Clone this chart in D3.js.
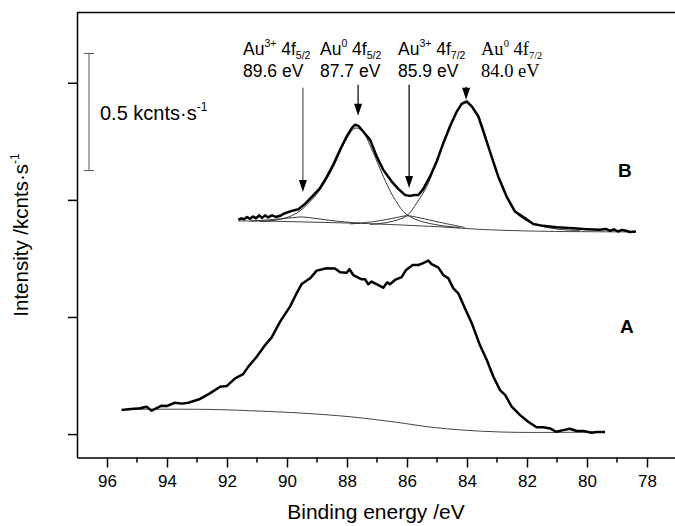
<!DOCTYPE html>
<html lang="en">
<head>
  <meta charset="UTF-8" />
  <title>Au 4f XPS spectra</title>
  <style>
    body { margin: 0; background: #fff; }
    text { font-family: Arial, "Liberation Sans", sans-serif; fill: #000; }
    .axis path, .axis line { stroke: #000; stroke-width: 1.5px; }
    .data { fill: none; stroke: #000; stroke-width: 2.5px; stroke-linejoin: round; }
    .fit { fill: none; stroke: #222; stroke-width: 0.9px; }
    .bg { fill: none; stroke: #444; stroke-width: 1px; }
  </style>
  <script src="https://d3js.org/d3.v7.min.js"></script>
</head>
<body>
  <svg id="chart" width="675" height="526"></svg>

  <script>
    // spectrum A : [binding energy eV, intensity kcnts/s]
    const spectrumA = [
      [95.51, 0.103], [95.2, 0.107], [94.9, 0.110], [94.68, 0.117], [94.51, 0.100],
      [94.18, 0.121], [94.0, 0.120], [93.73, 0.134], [93.5, 0.130], [93.29, 0.134],
      [92.90, 0.150], [92.57, 0.174], [92.23, 0.202], [92.01, 0.205], [91.73, 0.238],
      [91.46, 0.256], [91.29, 0.288], [91.01, 0.330], [90.73, 0.380], [90.51, 0.413],
      [90.23, 0.480], [89.90, 0.544], [89.68, 0.601], [89.51, 0.641], [89.23, 0.665],
      [89.01, 0.698], [88.68, 0.708], [88.40, 0.707], [88.23, 0.691], [88.01, 0.689],
      [87.92, 0.704], [87.79, 0.679], [87.51, 0.661], [87.40, 0.661], [87.29, 0.640],
      [87.18, 0.651], [86.79, 0.625], [86.66, 0.648], [86.57, 0.640], [86.40, 0.658],
      [86.18, 0.670], [86.03, 0.701], [85.81, 0.722], [85.62, 0.722], [85.48, 0.729],
      [85.29, 0.741], [85.18, 0.726], [84.96, 0.712], [84.79, 0.679], [84.62, 0.665],
      [84.46, 0.623], [84.29, 0.601], [84.07, 0.537], [83.84, 0.473], [83.57, 0.380],
      [83.34, 0.316], [83.12, 0.245], [82.90, 0.188], [82.73, 0.167], [82.51, 0.117],
      [82.23, 0.081], [81.96, 0.053], [81.68, 0.029], [81.46, 0.029], [81.23, 0.024],
      [81.03, 0.010], [80.79, 0.017], [80.57, 0.023], [80.34, 0.013], [80.12, 0.013],
      [79.84, 0.006], [79.68, 0.009], [79.40, 0.009]
    ];
    const backgroundA = [
      [95.53, 0.105], [94.57, 0.106], [92.47, 0.105], [90.90, 0.098], [89.57, 0.090],
      [87.90, 0.074], [86.33, 0.050], [85.23, 0.030], [84.13, 0.017], [82.90, 0.009],
      [81.57, 0.007], [79.40, 0.009]
    ];

    // spectrum B and its fit
    const spectrumB = [
      [91.62, 0.915], [91.53, 0.921], [91.43, 0.917], [91.33, 0.927], [91.23, 0.919],
      [91.13, 0.929], [91.03, 0.921], [90.93, 0.934], [90.83, 0.923], [90.73, 0.934],
      [90.63, 0.925], [90.50, 0.934], [90.37, 0.927], [90.23, 0.932], [90.07, 0.943],
      [89.84, 0.953], [89.62, 0.960], [89.40, 0.983], [89.18, 1.012], [88.90, 1.050],
      [88.68, 1.097], [88.46, 1.150], [88.23, 1.214], [88.01, 1.271], [87.84, 1.306],
      [87.73, 1.321], [87.62, 1.316], [87.46, 1.292], [87.23, 1.256], [87.01, 1.185],
      [86.79, 1.128], [86.51, 1.078], [86.29, 1.047], [86.07, 1.021], [85.90, 1.017],
      [85.75, 1.021], [85.62, 1.021], [85.46, 1.046], [85.23, 1.100], [85.01, 1.164],
      [84.79, 1.242], [84.57, 1.313], [84.34, 1.377], [84.18, 1.410], [84.01, 1.420],
      [83.84, 1.399], [83.62, 1.356], [83.40, 1.271], [83.18, 1.185], [82.96, 1.100],
      [82.68, 1.014], [82.40, 0.950], [82.07, 0.922], [81.79, 0.897], [81.46, 0.889],
      [81.01, 0.883], [80.46, 0.879], [80.01, 0.875], [79.57, 0.872], [79.37, 0.876],
      [79.23, 0.868], [79.10, 0.874], [78.97, 0.865], [78.83, 0.872], [78.70, 0.868],
      [78.57, 0.863], [78.37, 0.865]
    ];
    const backgroundB = [
      [91.63, 0.910], [90.23, 0.908], [88.90, 0.904], [87.57, 0.900], [86.23, 0.893],
      [84.90, 0.885], [83.57, 0.874], [82.23, 0.868], [80.90, 0.865], [78.37, 0.863]
    ];
    const au3f52 = [
      [91.23, 0.910], [90.57, 0.915], [89.90, 0.923], [89.50, 0.927], [89.07, 0.921],
      [88.40, 0.910], [87.57, 0.900]
    ];
    const au0f52 = [
      [90.90, 0.908], [90.23, 0.917], [89.68, 0.943], [89.23, 0.993], [88.90, 1.043],
      [88.47, 1.137], [88.07, 1.248], [87.73, 1.306], [87.50, 1.295], [87.12, 1.200],
      [86.79, 1.100], [86.46, 1.014], [86.12, 0.950], [85.90, 0.929], [85.57, 0.910],
      [84.90, 0.891], [84.23, 0.882]
    ];
    const au3f72 = [
      [87.90, 0.897], [87.07, 0.908], [86.40, 0.923], [86.00, 0.932], [85.57, 0.923],
      [84.90, 0.904], [84.07, 0.882]
    ];
    const au0f72 = [
      [87.23, 0.895], [86.57, 0.906], [86.01, 0.932], [85.68, 0.986], [85.34, 1.057],
      [85.12, 1.128], [84.90, 1.206], [84.57, 1.306], [84.30, 1.385], [84.01, 1.417],
      [83.80, 1.393], [83.57, 1.342], [83.18, 1.185], [82.96, 1.100], [82.68, 1.014],
      [82.40, 0.949], [82.07, 0.915], [81.57, 0.889], [80.90, 0.874], [80.23, 0.868]
    ];

    // peak annotations
    const peakIon = ['3+', '0', '3+', '0'];
    const peakLevel = ['5/2', '5/2', '7/2', '7/2'];
    const peakLabelEnergy = ['89.6 eV', '87.7 eV', '85.9 eV', '84.0 eV'];
    const arrowEnergy = [89.47, 87.63, 85.93, 84.03];
    const arrowTop = [1.479, 1.491, 1.491, 1.483];
    const arrowTip = [1.034, 1.359, 1.051, 1.427];

    const xTicks = [96, 94, 92, 90, 88, 86, 84, 82, 80, 78];
    const xMinorTicks = [95, 93, 91, 89, 87, 85, 83, 81, 79];
    const yTicks = [0, 0.5, 1.0, 1.5];
    const scaleBarTop = 1.625;
    const scaleBarSize = 0.5;

    const svg = d3.select('#chart');
    const m = { left: 77, right: 677, top: 12.5, bottom: 457.5 };

    const x = d3.scaleLinear().domain([97, 77]).range([m.left, m.right]);
    const y = d3.scaleLinear().domain([-0.1, 1.8]).range([m.bottom, m.top]);

    // frame top line
    svg.append('line')
      .attr('x1', m.left).attr('x2', 675).attr('y1', m.top).attr('y2', m.top)
      .attr('stroke', '#000').attr('stroke-width', 1.5);

    const xAxis = svg.append('g')
      .attr('class', 'axis')
      .attr('transform', `translate(0,${m.bottom})`)
      .call(d3.axisBottom(x).tickValues(xTicks).tickSize(10).tickSizeOuter(0).tickPadding(7));
    xAxis.selectAll('text').attr('font-size', 17);

    xAxis.selectAll('.minor')
      .data(xMinorTicks)
      .enter().append('line')
      .attr('class', 'minor')
      .attr('x1', d => x(d)).attr('x2', d => x(d))
      .attr('y1', 0).attr('y2', 5);

    svg.append('g')
      .attr('class', 'axis')
      .attr('transform', `translate(${m.left},0)`)
      .call(d3.axisLeft(y).tickValues(yTicks).tickSize(9).tickSizeOuter(0).tickFormat(''));

    // axis titles
    svg.append('text')
      .attr('x', (m.left + 675) / 2).attr('y', 519)
      .attr('text-anchor', 'middle').attr('font-size', 21)
      .text('Binding energy /eV');

    const yTitle = svg.append('text')
      .attr('transform', `translate(28,${(m.top + m.bottom) / 2}) rotate(-90)`)
      .attr('text-anchor', 'middle').attr('font-size', 20.5);
    yTitle.append('tspan').text('Intensity /kcnts\u00b7s');
    yTitle.append('tspan').attr('font-size', 12).attr('dy', -9).text('-1');

    // scale bar
    const sbX = 89;
    const sb = svg.append('g').attr('stroke', '#555').attr('stroke-width', 1);
    sb.append('line').attr('x1', sbX).attr('x2', sbX)
      .attr('y1', y(scaleBarTop)).attr('y2', y(scaleBarTop - scaleBarSize));
    [scaleBarTop, scaleBarTop - scaleBarSize].forEach(v => {
      sb.append('line').attr('x1', sbX - 5).attr('x2', sbX + 5)
        .attr('y1', y(v)).attr('y2', y(v));
    });
    const sbText = svg.append('text').attr('x', 100).attr('y', 120).attr('font-size', 20);
    sbText.append('tspan').text(scaleBarSize + ' kcnts\u00b7s');
    sbText.append('tspan').attr('font-size', 12).attr('dy', -9).text('-1');

    // curves
    const line = d3.line().x(d => x(d[0])).y(d => y(d[1]));
    const smooth = d3.line().x(d => x(d[0])).y(d => y(d[1])).curve(d3.curveCatmullRom);

    svg.append('path').datum(backgroundA).attr('class', 'bg').attr('d', smooth);
    svg.append('path').datum(spectrumA).attr('class', 'data').attr('d', line);

    svg.append('path').datum(backgroundB).attr('class', 'bg').attr('d', smooth);
    [au3f52, au0f52, au3f72, au0f72].forEach(c => {
      svg.append('path').datum(c).attr('class', 'fit').attr('d', smooth);
    });
    svg.append('path').datum(spectrumB).attr('class', 'data').attr('d', line);

    // series letters
    svg.append('text').attr('x', 618).attr('y', 177)
      .attr('font-size', 19).attr('font-weight', 'bold').text('B');
    svg.append('text').attr('x', 620).attr('y', 333)
      .attr('font-size', 19).attr('font-weight', 'bold').text('A');

    // peak labels and arrows (last label is set in a serif face in the original)
    const labelX = [243, 320, 398, 481];
    peakIon.forEach((ion, i) => {
      const serif = i === 3;
      const fam = serif ? '"Liberation Serif", "Times New Roman", serif' : 'Arial, "Liberation Sans", sans-serif';
      const fs = serif ? 18.5 : 17.5;
      const t = svg.append('text').attr('x', labelX[i]).attr('y', 55)
        .attr('font-size', fs).style('font-family', fam);
      t.append('tspan').text('Au');
      t.append('tspan').attr('font-size', 10.5).attr('dy', -8).text(ion);
      t.append('tspan').attr('dy', 8).text(' 4f');
      t.append('tspan').attr('font-size', 10.5).attr('dy', 4).text(peakLevel[i]);

      svg.append('text').attr('x', labelX[i]).attr('y', 77)
        .attr('font-size', fs).style('font-family', fam)
        .text(peakLabelEnergy[i]);

      const ax = x(arrowEnergy[i]);
      const col = i === 0 ? '#555' : '#000';
      const tip = y(arrowTip[i]);
      svg.append('line')
        .attr('x1', ax).attr('x2', ax)
        .attr('y1', y(arrowTop[i])).attr('y2', tip - 8)
        .attr('stroke', col).attr('stroke-width', 1.2);
      svg.append('path')
        .attr('d', `M${ax - 4},${tip - 12}L${ax + 4},${tip - 12}L${ax},${tip}Z`)
        .attr('fill', '#000');
    });
  </script>
</body>
</html>
